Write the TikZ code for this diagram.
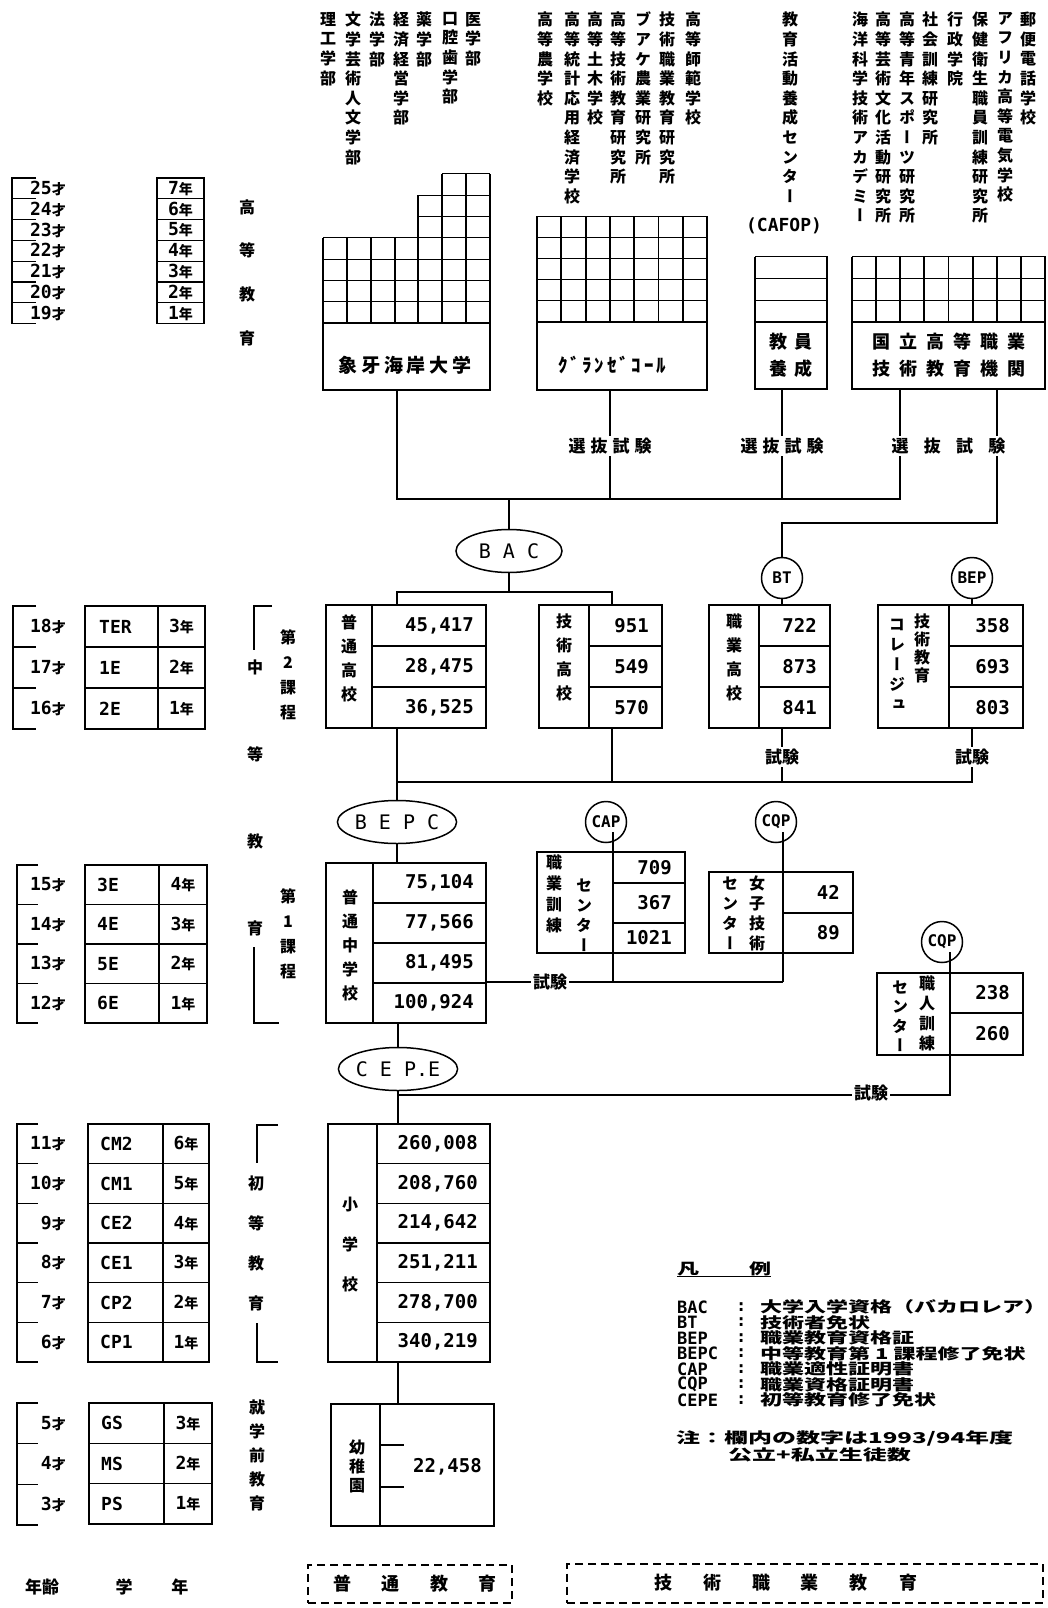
\documentclass[tikz,border=0pt]{standalone}
\usepackage{fontspec}
\setmainfont{Noto Sans CJK JP}
\setmonofont{DejaVu Sans Mono}
\newfontfamily\tatefont[RawFeature={+vert}]{Noto Sans CJK JP}
\usetikzlibrary{shapes.geometric,positioning}

\makeatletter
% vertical writing: one glyph per line
\def\tate@go{\@tfor\tate@c:=}
\newcommand\tate[2]{\edef\tate@list{#2}\vbox{\tatefont\baselineskip=#1\relax\lineskiplimit=-\maxdimen
  \expandafter\tate@go\tate@list\do{\hbox to 1em{\hss\tate@c\hss}}}}
% letter-spaced line
\def\spaced@go{\@tfor\spaced@c:=}
\newcommand\spaced[2]{\edef\spaced@list{#2}\expandafter\spaced@go\spaced@list\do{\hbox to #1{\hss\spaced@c\hss}}}
\makeatother
\newcommand\sai[1]{{\fontsize{18}{18}\selectfont\ttfamily #1}才}
\newcommand\nen[1]{{\fontsize{18}{18}\selectfont\ttfamily #1}年}
\newcommand\sq[1]{\scalebox{1}[0.68]{#1}}

\begin{document}
\begin{tikzpicture}[x=1pt,y=-1pt,
  font=\fontsize{16}{18}\selectfont\bfseries,
  box/.style={draw,line width=1.8pt,inner sep=0pt},
  dbox/.style={draw,line width=2pt,dash pattern=on 8pt off 5pt,inner sep=0pt},
  rule/.style={line width=1.6pt},
  thinrule/.style={line width=1.1pt},
  grid/.style={line width=1pt},
  vgrid/.style={line width=1.9pt},
  conn/.style={line width=1.8pt},
  cert/.style={ellipse,draw,line width=1.5pt,minimum width=116,minimum height=43,inner sep=0pt,font=\fontsize{20}{20}\selectfont\ttfamily},
  ring/.style={circle,draw,line width=1.5pt,minimum size=41,inner sep=0pt,font=\fontsize{16}{16}\selectfont\ttfamily\bfseries},
  fac/.style={anchor=north,inner sep=0pt},
  lbl/.style={inner sep=0pt},
  age/.style={anchor=east,inner sep=0pt,font=\fontsize{14}{14}\selectfont\bfseries},
  yr/.style={inner sep=0pt,font=\fontsize{14}{14}\selectfont\bfseries},
  grd/.style={anchor=west,inner sep=0pt,font=\fontsize{18}{18}\selectfont\ttfamily\bfseries},
  num/.style={anchor=east,inner sep=0pt,font=\fontsize{19}{19}\selectfont\ttfamily\bfseries},
  exam/.style={inner sep=2pt,font=\fontsize{17}{17}\selectfont\bfseries},
  lgd/.style={anchor=west,inner sep=0pt,font=\fontsize{22}{22}\selectfont\bfseries},
]
\useasboundingbox (0,0) rectangle (1048,1608);

% ---------- higher education labels
\foreach \x/\t [count=\i] in {328/理工学部,353/文学芸術人文学部,377/法学部,401/経済経営学部,424/薬学部,450/口腔歯学部,473/医学部}
  \node[fac] (fa\i) at (\x,12) {\tate{19.6pt}{\t}};
\foreach \x/\t [count=\i] in {545/高等農学校,572/高等統計応用経済学校,595/高等土木学校,618/高等技術教育研究所,643/ブアケ農業研究所,667/技術職業教育研究所,693/高等師範学校}
  \node[fac] (gs\i) at (\x,12) {\tate{19.6pt}{\t}};
\foreach \x/\t [count=\i] in {860/海洋科学技術アカデミー,883/高等芸術文化活動研究所,907/高等青年スポーツ研究所,930/社会訓練研究所,955/行政学院,980/保健衛生職員訓練研究所,1005/アフリカ高等電気学校,1028/郵便電話学校}
  \node[fac] (ni\i) at (\x,12) {\tate{19.6pt}{\t}};
\node[fac] (cafop) at (790,12) {\tate{19.6pt}{教育活動養成センター}};
\node[lbl,font=\fontsize{18}{18}\selectfont\ttfamily\bfseries] (cafopab) at (784,226) {(CAFOP)};

% ---------- higher education grids
\foreach \k/\n in {1/4,2/4,3/4,4/4,5/6,6/7,7/7}
  \foreach \j in {1,...,\n}
    \draw[grid] (299.15+23.85*\k,323-21.3*\j) rectangle ++(23.85,21.3);
\foreach \k/\n in {0/4,1/4,2/4,3/4,4/6,5/7,6/7,7/7}
  \draw[vgrid] (323+23.85*\k,323) -- ++(0,-21.3*\n);
\foreach \k in {0,...,6}
  \foreach \j in {1,...,5}
    \draw[grid] (537+24.3*\k,322-21.2*\j) rectangle ++(24.3,21.2);
\foreach \k in {0,...,7}
  \draw[vgrid] (537+24.3*\k,322) -- ++(0,-106);
\foreach \j in {1,2,3}
  \draw[grid] (755,322-21.7*\j) rectangle ++(72,21.7);
\draw[vgrid] (755,322) -- ++(0,-65.1) (827,322) -- ++(0,-65.1);
\foreach \k in {0,...,7}
  \foreach \j in {1,2,3}
    \draw[grid] (852+24.125*\k,322-21.7*\j) rectangle ++(24.125,21.7);
\foreach \k in {0,...,8}
  \draw[vgrid] (852+24.125*\k,322) -- ++(0,-65.1);

\node[box,minimum width=167,minimum height=67] (univ) at (406.5,356.5) {};
\node[lbl,font=\fontsize{19}{19}\selectfont\bfseries] (univl) at (405,365) {\spaced{22.7pt}{象牙海岸大学}};
\node[box,minimum width=170,minimum height=68] (gecole) at (622,356) {};
\node[lbl,font=\fontsize{19}{19}\selectfont\bfseries] (gecolel) at (612,365) {\spaced{12.3pt}{ｸﾞﾗﾝｾﾞｺｰﾙ}};
\node[box,minimum width=72,minimum height=67,align=center,font=\fontsize{18}{27}\selectfont\bfseries] (tt) at (791,355.5)
  {\spaced{25pt}{教員}\\\spaced{25pt}{養成}};
\node[box,minimum width=193,minimum height=67,align=center,font=\fontsize{18}{27}\selectfont\bfseries] (nat) at (948.5,355.5)
  {\spaced{27pt}{国立高等職業}\\\spaced{27pt}{技術教育機関}};

\node[exam] (sel1) at (610,446) {\spaced{22pt}{選抜試験}};
\node[exam] (sel2) at (782,446) {\spaced{22pt}{選抜試験}};
\node[exam] (sel3) at (948.5,446) {\spaced{32.3pt}{選抜試験}};

% ---------- age / year columns
\node[lbl] (sec1) at (247,272.5) {\tate{43.7pt}{高等教育}};
\draw[thinrule] (36,178) -- (12,178) -- (12,323.6) -- (36,323.6);
\foreach \i in {1,...,6} \draw[thinrule] (12,178+20.8*\i) -- ++(24,0);
\foreach \a [count=\i] in {25,24,...,19} \node[age] (age\a) at (66,167.6+20.8*\i) {\sai{\a}};
\draw[rule] (157,178) rectangle (204,323.6);
\foreach \i in {1,...,6} \draw[thinrule] (157,178+20.8*\i) -- ++(47,0);
\foreach \g [count=\i] in {7,6,...,1} \node[yr] (he\g) at (180.5,167.6+20.8*\i) {\nen{\g}};

\draw[thinrule] (36,606) -- (13,606) -- (13,729) -- (36,729);
\foreach \i in {1,2} \draw[thinrule] (13,606+41*\i) -- ++(23,0);
\foreach \a [count=\i] in {18,17,16} \node[age] (age\a) at (66,585.5+41*\i) {\sai{\a}};
\draw[rule] (85,606) rectangle (205,729);
\draw[rule] (158,606) -- (158,729);
\foreach \i in {1,2} \draw[thinrule] (85,606+41*\i) -- (205,606+41*\i);
\foreach \c/\g [count=\i] in {TER/3,1E/2,2E/1} {
  \node[grd] (sc\i) at (99,585.5+41*\i) {\c};
  \node[yr] (sy\i) at (181.5,585.5+41*\i) {\nen{\g}};
}

\draw[thinrule] (38,865) -- (17,865) -- (17,1023) -- (38,1023);
\foreach \i in {1,2,3} \draw[thinrule] (17,865+39.5*\i) -- ++(21,0);
\foreach \a [count=\i] in {15,14,13,12} \node[age] (age\a) at (66,845.25+39.5*\i) {\sai{\a}};
\draw[rule] (85,865) rectangle (207,1023);
\draw[rule] (159,865) -- (159,1023);
\foreach \i in {1,2,3} \draw[thinrule] (85,865+39.5*\i) -- (207,865+39.5*\i);
\foreach \c/\g [count=\i] in {3E/4,4E/3,5E/2,6E/1} {
  \node[grd] (fc\i) at (97,845.25+39.5*\i) {\c};
  \node[yr] (fy\i) at (183,845.25+39.5*\i) {\nen{\g}};
}

\draw[thinrule] (38,1124) -- (17,1124) -- (17,1362) -- (38,1362);
\foreach \i in {1,...,5} \draw[thinrule] (17,1124+39.67*\i) -- ++(21,0);
\foreach \a [count=\i] in {11,10,...,6} \node[age] (age\a) at (66,1104.2+39.67*\i) {\sai{\a}};
\draw[rule] (88,1124) rectangle (209,1362);
\draw[rule] (163,1124) -- (163,1362);
\foreach \i in {1,...,5} \draw[thinrule] (88,1124+39.67*\i) -- (209,1124+39.67*\i);
\foreach \c/\g [count=\i] in {CM2/6,CM1/5,CE2/4,CE1/3,CP2/2,CP1/1} {
  \node[grd] (pc\i) at (100,1104.2+39.67*\i) {\c};
  \node[yr] (py\i) at (186,1104.2+39.67*\i) {\nen{\g}};
}

\draw[thinrule] (38,1403) -- (17,1403) -- (17,1525) -- (38,1525);
\foreach \i in {1,2} \draw[thinrule] (17,1403+40.67*\i) -- ++(21,0);
\foreach \a [count=\i] in {5,4,3} \node[age] (age\a) at (66,1382.7+40.67*\i) {\sai{\a}};
\draw[rule] (89,1403) rectangle (212,1524);
\draw[rule] (164,1403) -- (164,1524);
\foreach \i in {1,2} \draw[thinrule] (89,1403+40.33*\i) -- (212,1403+40.33*\i);
\foreach \c/\g [count=\i] in {GS/3,MS/2,PS/1} {
  \node[grd] (kc\i) at (101,1382.8+40.33*\i) {\c};
  \node[yr] (ky\i) at (188,1382.8+40.33*\i) {\nen{\g}};
}

% ---------- section labels
\node[lbl] (sec2) at (255,797.5) {\tate{87pt}{中等教育}};
\draw[rule] (272,606) -- (254,606) -- (254,650);
\draw[rule] (254,947) -- (254,1023) -- (279,1023);
\node[lbl] (cyc2) at (288,675) {\tate{25pt}{第2課程}};
\node[lbl] (cyc1) at (288,934) {\tate{25pt}{第1課程}};
\node[lbl] (sec3) at (256,1243) {\tate{40pt}{初等教育}};
\draw[rule] (278,1125) -- (257,1125) -- (257,1163);
\draw[rule] (257,1323) -- (257,1362) -- (278,1362);
\node[lbl] (sec4) at (257,1455) {\tate{24pt}{就学前教育}};

% ---------- certificates
\node[cert,minimum width=106] (bac) at (509,551) {B A C};
\node[ring] (bt) at (782,578) {BT};
\node[ring] (bep) at (972,578) {BEP};
\node[cert] (bepc) at (397,822) {B E P C};
\node[ring] (cap) at (606,822) {CAP};
\node[ring] (cqpa) at (776,822) {CQP};
\node[ring] (cqpb) at (942,942) {CQP};
\node[cert] (cepe) at (398,1069) {C E P.E};

% ---------- upper secondary
\node[box,minimum width=160,minimum height=123] (hs) at (406,666.5) {};
\node[box,minimum width=123,minimum height=123] (ths) at (600.5,666.5) {};
\node[box,minimum width=121,minimum height=123] (voc) at (769.5,666.5) {};
\node[box,minimum width=145,minimum height=123] (col) at (950.5,666.5) {};
\draw[rule] (372,605) -- (372,728) (589,605) -- (589,728) (759,605) -- (759,728) (949,605) -- (949,728);
\foreach \y in {646,687}
  \draw[thinrule] (372,\y) -- (486,\y) (589,\y) -- (662,\y) (759,\y) -- (830,\y) (949,\y) -- (1023,\y);
\node[num] (hs1) at (474,625.5) {45,417};
\node[num] (hs2) at (474,666.5) {28,475};
\node[num] (hs3) at (474,707.5) {36,525};
\node[num] (th1) at (649,625.5) {951};
\node[num] (th2) at (649,666.5) {549};
\node[num] (th3) at (649,707.5) {570};
\node[num] (vo1) at (817,625.5) {722};
\node[num] (vo2) at (817,666.5) {873};
\node[num] (vo3) at (817,707.5) {841};
\node[num] (co1) at (1010,625.5) {358};
\node[num] (co2) at (1010,666.5) {693};
\node[num] (co3) at (1010,707.5) {803};
\node[lbl] (hsl) at (349,658) {\tate{24pt}{普通高校}};
\node[lbl] (thl) at (564,657) {\tate{24pt}{技術高校}};
\node[lbl] (vol) at (734,657) {\tate{24pt}{職業高校}};
\node[lbl] (coll) at (922,648) {\tate{18pt}{技術教育}};
\node[lbl] (colr) at (897,665) {\tate{20pt}{コレージュ}};
\node[exam] (ex1) at (782,757) {試験};
\node[exam] (ex2) at (972,757) {試験};

% ---------- lower secondary and vocational centres
\node[box,minimum width=160,minimum height=160] (ms) at (406,943) {};
\draw[rule] (373,863) -- (373,1023);
\foreach \y in {903,943,983} \draw[thinrule] (373,\y) -- (486,\y);
\node[num] (ms1) at (474,883) {75,104};
\node[num] (ms2) at (474,923) {77,566};
\node[num] (ms3) at (474,963) {81,495};
\node[num] (ms4) at (474,1003) {100,924};
\node[lbl] (msl) at (350,945) {\tate{24pt}{普通中学校}};

\node[box,minimum width=148,minimum height=101] (fc) at (611,902.5) {};
\foreach \y in {883,923} \draw[thinrule] (613,\y) -- (685,\y);
\node[num] (fc1) at (672,867.5) {709};
\node[num] (fc2) at (672,903) {367};
\node[num] (fc3) at (672,938) {1021};
\node[lbl] (fcl) at (554,893.5) {\tate{21pt}{職業訓練}};
\node[lbl] (fcr) at (584,915) {\tate{20pt}{センター}};

\node[box,minimum width=144,minimum height=81] (wc) at (781,912.5) {};
\draw[thinrule] (783,913) -- (853,913);
\node[num] (wc1) at (840,892.5) {42};
\node[num] (wc2) at (840,933) {89};
\node[lbl] (wcr) at (757,913) {\tate{20pt}{女子技術}};
\node[lbl] (wcl) at (730,913) {\tate{20pt}{センター}};

\node[box,minimum width=146,minimum height=82] (ac) at (950,1014) {};
\draw[thinrule] (950,1013) -- (1023,1013);
\node[num] (ac1) at (1010,993) {238};
\node[num] (ac2) at (1010,1034) {260};
\node[lbl] (acr) at (927,1013) {\tate{20pt}{職人訓練}};
\node[lbl] (acl) at (900,1016) {\tate{19.5pt}{センター}};

\node[exam] (ex3) at (550,982) {試験};
\node[exam] (ex4) at (871,1093) {試験};

% ---------- primary and pre-school
\node[box,minimum width=162,minimum height=238] (ps) at (409,1243) {};
\draw[rule] (377,1124) -- (377,1362);
\foreach \i in {1,...,5} \draw[thinrule] (377,1124+39.67*\i) -- (490,1124+39.67*\i);
\node[num] (ps1) at (478,1143.8) {260,008};
\node[num] (ps2) at (478,1183.5) {208,760};
\node[num] (ps3) at (478,1223.2) {214,642};
\node[num] (ps4) at (478,1262.8) {251,211};
\node[num] (ps5) at (478,1302.5) {278,700};
\node[num] (ps6) at (478,1342.2) {340,219};
\node[lbl] (psl) at (350,1245) {\tate{40pt}{小学校}};

\node[box,minimum width=163,minimum height=122] (kg) at (412.5,1465) {};
\draw[rule] (380,1404) -- (380,1526);
\draw[thinrule] (380,1445) -- (404,1445) (380,1487) -- (404,1487);
\node[num] (kg1) at (482,1467) {22,458};
\node[lbl] (kgl) at (357,1466) {\tate{19pt}{幼稚園}};

% ---------- connectors
\coordinate (j1) at (397,499);
\coordinate (j2) at (900,499);
\coordinate (j3) at (997,523);
\coordinate (j4) at (397,592);
\coordinate (j5) at (612,592);
\coordinate (j6) at (397,782);
\coordinate (j7) at (972,782);
\coordinate (j8) at (783,982);
\coordinate (j9) at (950,1095);
\coordinate (j10) at (398,1095);
\coordinate (capl) at (613,832);
\coordinate (cqpal) at (783,832);
\coordinate (cqpbl) at (950,952);

\draw[conn] (univ.south -| j1) -- (j1) -- (j2) -- (sel3.south -| j2);
\draw[conn] (nat.south -| j2) -- (sel3.north -| j2);
\draw[conn] (gecole.south -| sel1) -- (sel1.north);
\draw[conn] (sel1.south) -- (sel1 |- j1);
\draw[conn] (tt.south -| sel2) -- (sel2.north);
\draw[conn] (sel2.south) -- (sel2 |- j1);
\draw[conn] (nat.south -| j3) -- (sel3.north -| j3);
\draw[conn] (sel3.south -| j3) -- (j3) -- (j3 -| bt) -- (bt.north);
\draw[conn] (bac |- j1) -- (bac.north);
\draw[conn] (bac.south) -- (bac |- j4);
\draw[conn] (hs.north -| j4) -- (j4) -- (j5) -- (ths.north -| j5);
\draw[conn] (bt.south) -- (voc.north -| bt);
\draw[conn] (bep.south) -- (col.north -| bep);

\draw[conn] (hs.south -| j6) -- (bepc.north);
\draw[conn] (ths.south -| j5) -- (j5 |- j6);
\draw[conn] (voc.south -| ex1) -- (ex1.north);
\draw[conn] (ex1.south) -- (ex1 |- j6);
\draw[conn] (col.south -| ex2) -- (ex2.north);
\draw[conn] (j6) -- (j7) -- (ex2.south);

\draw[conn] (bepc.south) -- (ms.north -| bepc);
\draw[conn] (capl) -- (capl |- ex3);
\draw[conn] (cqpal) -- (j8);
\draw[conn] (ms.east |- ex3) -- (ex3.west);
\draw[conn] (ex3.east) -- (j8);
\draw[conn] (ms.south -| cepe) -- (cepe.north);
\draw[conn] (cqpbl) -- (j9) -- (ex4.east |- j9);
\draw[conn] (ex4.west |- j10) -- (j10);
\draw[conn] (cepe.south) -- (ps.north -| cepe);
\draw[conn] (ps.south -| cepe) -- (kg.north -| cepe);

% ---------- legend
\node[lgd] (lgh) at (677,1269) {\sq{凡\hspace{50pt}例}};
\draw[line width=1.2pt] (lgh.south west) -- (lgh.south east);
\foreach \ab/\tx [count=\i] in {BAC/大学入学資格（バカロレア）,BT/技術者免状,BEP/職業教育資格証,BEPC/中等教育第\hspace{5pt}1\hspace{5pt}課程修了免状,CAP/職業適性証明書,CQP/職業資格証明書,CEPE/初等教育修了免状} {
  \node[lgd,font=\fontsize{17}{17}\selectfont\ttfamily\bfseries] (lab\i) at (677,1291.5+15.5*\i) {\ab};
  \node[lgd,font=\fontsize{17}{17}\selectfont\ttfamily\bfseries] (lco\i) at (736,1291.5+15.5*\i) {:};
  \node[lgd] (ltx\i) at (760,1291.5+15.5*\i) {\sq{\tx}};
}
\node[lgd,font=\fontsize{24}{24}\selectfont\bfseries] (note1) at (676,1438) {\scalebox{1}[0.62]{注：欄内の数字は1993/94年度}};
\node[lgd,font=\fontsize{24}{24}\selectfont\bfseries] (note2) at (728,1455) {\scalebox{1}[0.62]{公立+私立生徒数}};

\node[dbox,minimum width=204,minimum height=38] (gen) at (410,1584) {};
\node[lbl,font=\fontsize{18}{18}\selectfont\bfseries] (genl) at (415,1584) {\spaced{48.3pt}{普通教育}};
\node[dbox,minimum width=476,minimum height=39] (tech) at (805,1583) {};
\node[lbl,font=\fontsize{18}{18}\selectfont\bfseries] (techl) at (785.5,1583) {\spaced{49pt}{技術職業教育}};
\node[lbl,font=\fontsize{17}{17}\selectfont\bfseries] (agehd) at (42,1587) {年齢};
\node[lbl,font=\fontsize{17}{17}\selectfont\bfseries] (grhd) at (152,1587) {\spaced{56pt}{学年}};

\end{tikzpicture}
\end{document}
